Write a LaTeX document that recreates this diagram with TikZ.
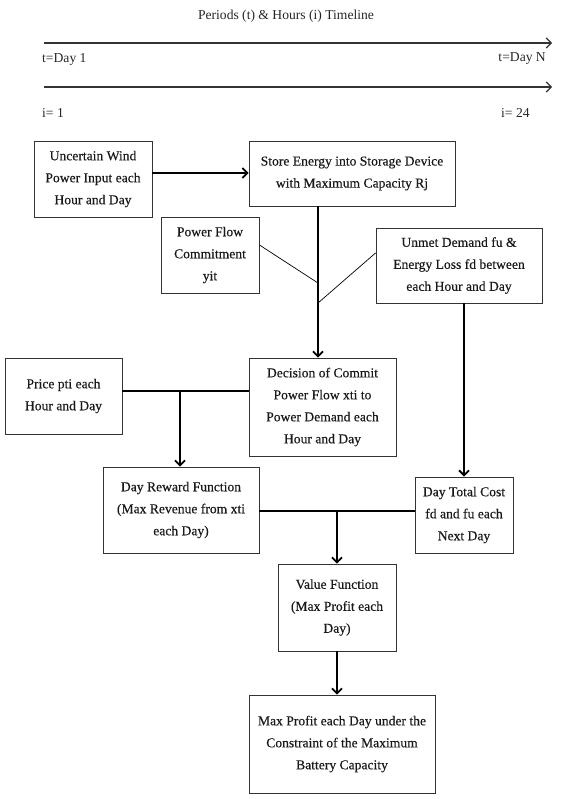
\documentclass[tikz,border=0pt]{standalone}
\usepackage{fontspec}
\setmainfont{Liberation Serif}
\newfontfamily\boxfont{Liberation Serif}[BoldFont={Liberation Serif}, BoldFeatures={FakeBold=0.35}]
\usetikzlibrary{arrows.meta}
\tikzset{
  box/.style={draw=black!80, line width=0.9pt, align=center, inner sep=0pt, text=black!90, font=\boxfont\bfseries\fontsize{13.6}{22}\selectfont},
  lbl/.style={inner sep=0pt, text=black!85, font=\fontsize{13.6}{16}\selectfont},
  conn/.style={line width=1.8pt},
  arr/.style={line width=1.8pt, -{Straight Barb[length=5pt,width=10pt]}},
  tl/.style={line width=1.2pt, black!80, -{Straight Barb[length=5pt,width=10pt]}},
  thinline/.style={line width=0.7pt}
}
\begin{document}
\begin{tikzpicture}[x=1pt,y=-1pt]
\useasboundingbox (0,0) rectangle (561,799);
% timeline
\node[lbl] (title) at (286,16) {Periods (t) \& Hours (i) Timeline};
\coordinate (t1s) at (44,43);
\coordinate (t1e) at (552,43);
\coordinate (t2s) at (44,87);
\coordinate (t2e) at (552,87);
\draw[tl] (t1s) -- (t1e);
\draw[tl] (t2s) -- (t2e);
\node[lbl, anchor=west] (td1) at (42,59) {t=Day 1};
\node[lbl, anchor=east] (tdn) at (546,59) {t=Day N};
\node[lbl, anchor=west] (i1) at (42,113) {i= 1};
\node[lbl, anchor=west] (i24) at (501,113) {i= 24};
% boxes
\node[box, minimum width=118pt, minimum height=76pt] (wind) at (93,179) {Uncertain Wind\\Power Input each\\Hour and Day};
\node[box, minimum width=206pt, minimum height=65pt] (store) at (352,173.5) {Store Energy into Storage Device\\with Maximum Capacity Rj};
\node[box, minimum width=98pt, minimum height=76pt] (pf) at (210,255) {Power Flow\\Commitment\\yit};
\node[box, minimum width=166pt, minimum height=75pt] (unmet) at (459,265.5) {Unmet Demand fu \&\\Energy Loss fd between\\each Hour and Day};
\node[box, minimum width=117pt, minimum height=76pt] (price) at (63.5,396) {Price pti each\\Hour and Day};
\node[box, minimum width=147pt, minimum height=98pt] (decision) at (322.5,407) {Decision of Commit\\Power Flow xti to\\Power Demand each\\Hour and Day};
\node[box, minimum width=156pt, minimum height=86pt] (reward) at (181,510) {Day Reward Function\\(Max Revenue from xti\\each Day)};
\node[box, minimum width=98pt, minimum height=76pt] (tc) at (464,515) {Day Total Cost\\fd and fu each\\Next Day};
\node[box, minimum width=118pt, minimum height=87pt] (value) at (337,607.5) {Value Function\\(Max Profit each\\Day)};
\node[box, minimum width=186pt, minimum height=98pt] (final) at (342,744) {Max Profit each Day under the\\Constraint of the Maximum\\Battery Capacity};
% connectors
\coordinate (h1) at (0,173);
\draw[arr] (wind.east |- h1) -- (store.west |- h1);
\coordinate (v1) at (318,0);
\draw[arr] (store.south -| v1) -- (decision.north -| v1);
\coordinate (m1) at (318,283);
\coordinate (m2) at (318,303);
\draw[thinline] ([yshift=10pt]pf.east) -- (m1);
\draw[thinline] ([yshift=12.5pt]unmet.west) -- (m2);
\draw[arr] (unmet.south -| tc.north) -- (tc.north);
\coordinate (j2) at (180,391);
\draw[conn] (price.east |- j2) -- (decision.west |- j2);
\draw[arr] (j2) -- (reward.north -| j2);
\coordinate (j3) at (337,511);
\draw[conn] (reward.east |- j3) -- (tc.west |- j3);
\draw[arr] (j3) -- (value.north);
\draw[arr] (value.south) -- (value.south |- final.north);
\end{tikzpicture}
\end{document}
